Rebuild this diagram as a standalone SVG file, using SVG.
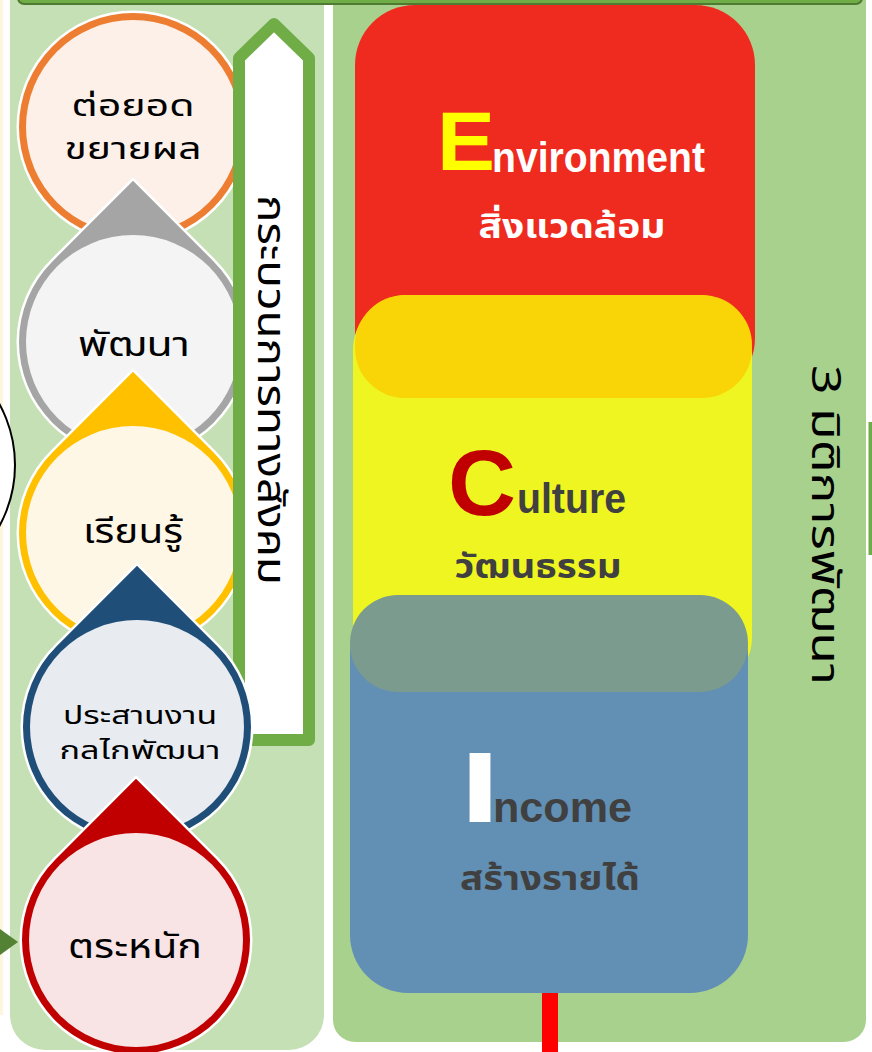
<svg xmlns="http://www.w3.org/2000/svg" width="872" height="1052" viewBox="0 0 872 1052">
<style>
.th{font-family:'Noto Sans Thai','Noto Sans Thai Looped','Noto Sans','Noto Sans CJK SC',sans-serif;}
.lt{font-family:'Liberation Sans',Arial,sans-serif;font-weight:bold;}
.halo{stroke:#ffffff;stroke-width:5;paint-order:stroke;}
.ct{font-size:34px;fill:#000000;text-anchor:middle;}
.ct2{font-size:30px;fill:#000000;text-anchor:middle;}
.rt{font-size:34px;font-weight:bold;text-anchor:middle;}
</style>
<rect x="0" y="0" width="872" height="1052" fill="#ffffff"/>
<g id="edges">
  <rect x="0" y="0" width="3" height="1015" fill="#fdf6dc"/>
  <rect x="868.5" y="422" width="3.5" height="133" fill="#70ad47"/>
</g>
<g id="left-panel">
  <rect x="10" y="-40" width="314" height="1090" rx="35" fill="#c5e0b4"/>
</g>
<g id="right-panel">
  <rect x="333" y="-40" width="533" height="1082" rx="22" fill="#a9d18e"/>
</g>
<g id="outside-circle">
  <circle cx="-112" cy="465" r="127" fill="#ffffff" stroke="#000000" stroke-width="2"/>
</g>
<g id="top-bar">
  <rect x="18" y="-30" width="844" height="34" rx="6" fill="#70ad47" stroke="#4e7a32" stroke-width="2"/>
</g>
<g id="node-extend">
  <circle cx="133" cy="127" r="114" class="halo" fill="#ed7d31"/>
  <circle cx="133" cy="127" r="107" fill="#fdf0e9"/>
  <text class="th ct2" x="133" y="116" textLength="123" lengthAdjust="spacingAndGlyphs">ต่อยอด</text>
  <text class="th ct2" x="133" y="159" textLength="137" lengthAdjust="spacingAndGlyphs">ขยายผล</text>
</g>
<g id="node-develop">
  <path d="M133,180.8 L213.6,261.4 A114,114 0 1 1 52.4,261.4 Z" class="halo" fill="#a5a5a5"/>
  <circle cx="133" cy="342" r="107" fill="#f4f4f4"/>
  <text class="th ct" x="134" y="356" textLength="112" lengthAdjust="spacingAndGlyphs">พัฒนา</text>
</g>
<g id="node-learn">
  <path d="M133,371.8 L213.6,452.4 A114,114 0 1 1 52.4,452.4 Z" class="halo" fill="#ffc000"/>
  <circle cx="133" cy="533" r="107" fill="#fff7e5"/>
  <text class="th ct" x="133" y="543" textLength="100" lengthAdjust="spacingAndGlyphs">เรียนรู้</text>
</g>
<g id="node-process-arrow">
  <path d="M239,740 L239,58 L274,24 L309,58 L309,740 Z" fill="#ffffff" stroke="#70ad47" stroke-width="12" stroke-linejoin="round"/>
  <text class="th" transform="translate(258,390) rotate(90)" text-anchor="middle" font-size="40" fill="#000000" textLength="390" lengthAdjust="spacingAndGlyphs">กระบวนการทางสังคม</text>
</g>
<g id="node-coordinate">
  <path d="M137,565.8 L217.6,646.4 A114,114 0 1 1 56.4,646.4 Z" class="halo" fill="#1f4e79"/>
  <circle cx="137" cy="727" r="107" fill="#e8ebf0"/>
  <text class="th" x="140" y="724" text-anchor="middle" font-size="25" textLength="154" lengthAdjust="spacingAndGlyphs">ประสานงาน</text>
  <text class="th" x="140" y="759" text-anchor="middle" font-size="25" textLength="161" lengthAdjust="spacingAndGlyphs">กลไกพัฒนา</text>
</g>
<g id="node-aware">
  <path d="M136,778.8 L216.6,859.4 A114,114 0 1 1 55.4,859.4 Z" class="halo" fill="#c00000"/>
  <circle cx="136" cy="940" r="107" fill="#f8e4e4"/>
  <text class="th ct" x="135" y="958" textLength="134" lengthAdjust="spacingAndGlyphs">ตระหนัก</text>
</g>
<g id="connectors">
  <polygon points="0,929 18,942 0,955" fill="#548235"/>
  <rect x="542" y="990" width="16" height="62" fill="#ff0000"/>
</g>
<g id="node-environment">
  <rect x="355" y="5" width="400" height="393" rx="60" fill="#ee2b1e"/>
</g>
<g id="node-culture">
  <rect x="353" y="295" width="399" height="397" rx="55" fill="#eef520"/>
  <rect x="355" y="295" width="397" height="103" rx="50" fill="#f9d406"/>
</g>
<g id="node-income">
  <rect x="350" y="595" width="398" height="398" rx="58" fill="#628fb4"/>
  <rect x="350" y="595" width="398" height="97" rx="48" fill="#7b9b8f"/>
</g>
<g id="labels-right">
  <text class="lt" x="437" y="170" font-size="84" fill="#ffff00" textLength="58" lengthAdjust="spacingAndGlyphs">E</text>
  <text class="lt" x="492" y="172" font-size="42" fill="#ffffff" textLength="213" lengthAdjust="spacingAndGlyphs">nvironment</text>
  <text class="th rt" x="572" y="238" fill="#ffffff" textLength="187" lengthAdjust="spacingAndGlyphs">สิ่งแวดล้อม</text>
  <text class="lt" x="448" y="515" font-size="92" fill="#c00000" textLength="68" lengthAdjust="spacingAndGlyphs">C</text>
  <text class="lt" x="517" y="513" font-size="42" fill="#404040" textLength="109" lengthAdjust="spacingAndGlyphs">ulture</text>
  <text class="th rt" x="538" y="578" fill="#404040" textLength="167" lengthAdjust="spacingAndGlyphs">วัฒนธรรม</text>
  <text class="lt" x="480" y="822" font-size="100" fill="#ffffff" text-anchor="middle" textLength="40" lengthAdjust="spacingAndGlyphs">I</text>
  <text class="lt" x="493" y="822" font-size="42" fill="#404040" textLength="139" lengthAdjust="spacingAndGlyphs">ncome</text>
  <text class="th rt" x="550" y="890" fill="#404040" textLength="180" lengthAdjust="spacingAndGlyphs">สร้างรายได้</text>
  <text class="th" transform="translate(812,525) rotate(90)" text-anchor="middle" font-size="40" fill="#000000" textLength="320" lengthAdjust="spacingAndGlyphs">3 มิติการพัฒนา</text>
</g>
</svg>
